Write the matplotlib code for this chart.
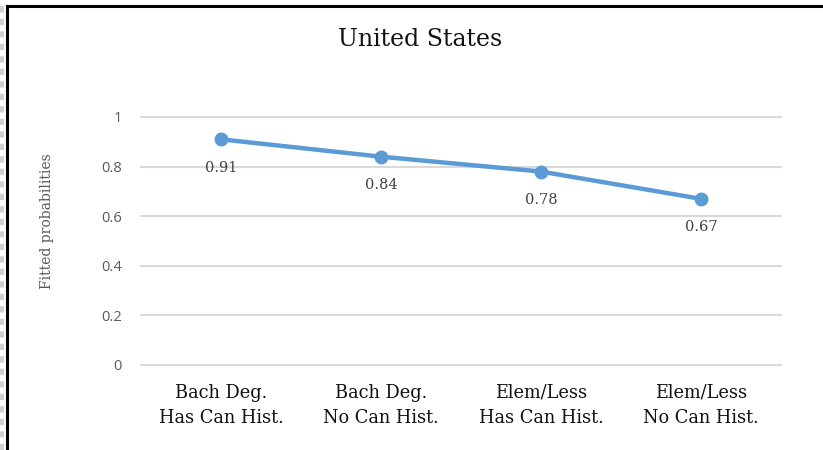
import matplotlib
matplotlib.use("Agg")
import matplotlib.pyplot as plt
from matplotlib.lines import Line2D

categories = ["Bach Deg.\nHas Can Hist.", "Bach Deg.\nNo Can Hist.",
              "Elem/Less\nHas Can Hist.", "Elem/Less\nNo Can Hist."]
probabilities = [0.91, 0.84, 0.78, 0.67]
y_ticks = [0, 0.2, 0.4, 0.6, 0.8, 1]
y_tick_labels = ["0", "0.2", "0.4", "0.6", "0.8", "1"]

SERIF = ["DejaVu Serif"]
SANS = ["Open Sans", "DejaVu Sans"]
LINE_BLUE = "#5B9BD5"
GRID = "#D9D9D9"
TEXT_GRAY = "#595959"

W, H = 823, 450
fig = plt.figure(figsize=(W / 100, H / 100), dpi=100)
fig.patch.set_facecolor("white")

left, right, top, bottom = 141, 781, 117, 365
ax = fig.add_axes([left / W, 1 - bottom / H, (right - left) / W, (bottom - top) / H])
ax.set_facecolor("white")

x = list(range(len(categories)))
ax.set_xlim(-0.5, len(categories) - 0.5)
ax.set_ylim(0, 1)

for t in y_ticks:
    ax.axhline(t, color=GRID, lw=1.5, zorder=0, clip_on=False)

ax.plot(x, probabilities, color=LINE_BLUE, lw=3.2, marker="o", ms=9,
        markerfacecolor=LINE_BLUE, markeredgecolor=LINE_BLUE, zorder=3,
        solid_capstyle="round")

for xi, p in zip(x, probabilities):
    ax.annotate(f"{p:.2f}", (xi, p), xytext=(0, -20.5), textcoords="offset points",
                ha="center", va="center", fontsize=10.5, family=SERIF,
                color="#404040")

for s in ax.spines.values():
    s.set_visible(False)
ax.tick_params(axis="both", length=0)
ax.set_yticks(y_ticks)
ax.set_yticklabels(y_tick_labels, family=SANS, fontsize=10.5, color=TEXT_GRAY)
ax.tick_params(axis="y", pad=14)
ax.set_xticks(x)
ax.set_xticklabels(categories, family=SERIF, fontsize=12.8, color="#111111",
                   linespacing=1.5)
ax.tick_params(axis="x", pad=13.5)

fig.text(420 / W, 1 - 40 / H, "United States", ha="center", va="center",
         family=SERIF, fontsize=17, color="#111111")
fig.text(47 / W, 1 - 221 / H, "Fitted probabilities", ha="center", va="center",
         rotation=90, family=SERIF, fontsize=10, color=TEXT_GRAY)

# page frame
fig.add_artist(Line2D([6.5 / W, 6.5 / W], [0, 1 - 6 / H], transform=fig.transFigure,
                      color="black", lw=2.2, solid_capstyle="projecting"))
fig.add_artist(Line2D([6.5 / W, 1], [1 - 6 / H, 1 - 6 / H], transform=fig.transFigure,
                      color="black", lw=2.2, solid_capstyle="projecting"))
fig.add_artist(Line2D([2 / W, 2 / W], [0, 1], transform=fig.transFigure,
                      color="#CFCFCF", lw=3, linestyle=(0, (1.5, 1.5))))

fig.savefig("out.png", dpi=100, facecolor="white")
